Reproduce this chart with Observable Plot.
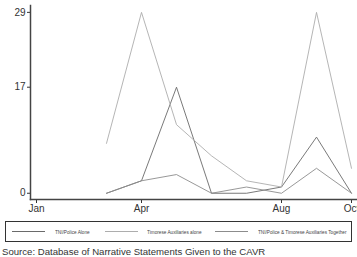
<!DOCTYPE html>
<html><head><meta charset="utf-8">
<script src="https://cdn.jsdelivr.net/npm/d3@7"></script>
<script src="https://cdn.jsdelivr.net/npm/@observablehq/plot@0.6"></script>
<style>
body{margin:0;background:#fff;font-family:"Liberation Sans",Arial,sans-serif;}
#wrap{width:357px;}
.legend{position:relative;box-sizing:border-box;margin:4px 5px 0 5px;width:347px;height:21px;border:1.3px solid #333;color:#444;white-space:nowrap;}
.sw{position:absolute;top:9px;width:33px;height:0;border-top:1px solid;}
.lt{position:absolute;top:6px;font-size:9.4px;line-height:8px;transform:scale(0.5);transform-origin:0 50%;}
.cap{font-size:9.6px;color:#333;margin:4px 0 0 2px;white-space:nowrap;}
</style></head><body><div id="wrap"></div>
<script>
const months = [3,4,5,6,7,8,9,10];
const seriesNames = ["TNI/Police Alone","Timorese Auxiliaries alone","TNI/Police & Timorese Auxiliaries Together"];
const tniAlone = [0,2,17,0,0,1,9,0];
const auxAlone = [8,29,11,6,2,1,29,4];
const together = [0,2,3,0,1,0,4,0];
const colors = ["#6a6a6a","#adadad","#8c8c8c"];
const xTicks = [1,4,8,10];
const xTickLabels = ["Jan","Apr","Aug","Oct"];
const yTicks = [0,17,29];

const data = [];
[tniAlone, auxAlone, together].forEach((vals,i)=>vals.forEach((v,j)=>data.push({s:seriesNames[i],m:months[j],v})));

const plot = Plot.plot({
  width:357, height:217,
  marginLeft:30, marginRight:0, marginTop:5, marginBottom:18,
  style:{fontFamily:"Liberation Sans, Arial, sans-serif", fontSize:"10px", color:"#333"},
  x:{domain:[1-6/35,10+6/35]},
  y:{domain:[-1,30.1]},
  color:{domain:seriesNames, range:colors},
  marks:[
    Plot.lineY(data,{x:"m",y:"v",z:"s",stroke:"s",strokeWidth:0.9}),
    Plot.axisX({ticks:xTicks,tickFormat:(d)=>xTickLabels[xTicks.indexOf(d)],tickSize:4,tickPadding:1,stroke:"#333",label:null}),
    Plot.axisY({ticks:yTicks,tickSize:3,tickPadding:2,stroke:"#333",label:null}),
    Plot.frame({anchor:"left",stroke:"#444",strokeWidth:1.5}),
    Plot.frame({anchor:"bottom",stroke:"#444",strokeWidth:1.5})
  ]
});
const wrap = document.getElementById("wrap");
wrap.appendChild(plot);
const lg = document.createElement("div");
lg.className="legend";
const swLeft=[6,99,209], txLeft=[49,141,252];
seriesNames.forEach((n,i)=>{
  const sw=document.createElement("span");sw.className="sw";sw.style.borderColor=colors[i];sw.style.left=swLeft[i]+"px";
  lg.appendChild(sw);
  const t=document.createElement("span");t.className="lt";t.textContent=n;t.style.left=txLeft[i]+"px";
  lg.appendChild(t);
});
wrap.appendChild(lg);
const cap=document.createElement("div");cap.className="cap";
cap.textContent="Source: Database of Narrative Statements Given to the CAVR";
wrap.appendChild(cap);
</script></body></html>
